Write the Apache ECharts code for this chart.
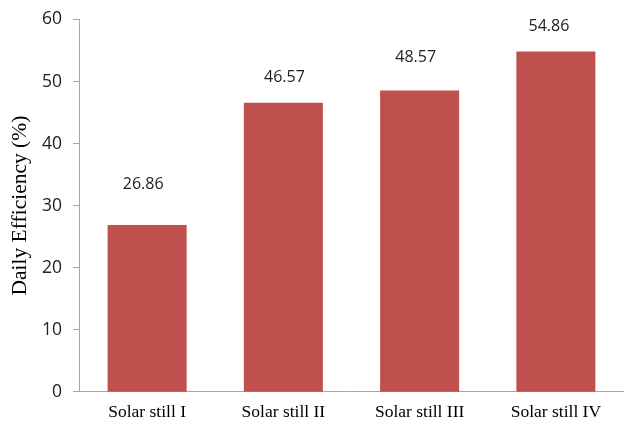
<!DOCTYPE html>
<html>
<head>
<meta charset="utf-8">
<script src="https://cdn.jsdelivr.net/npm/echarts@6/dist/echarts.min.js"></script>
<style>
  html, body { margin: 0; padding: 0; background: #fff; }
  #chart { width: 624px; height: 425px; }
</style>
</head>
<body>
<div id="chart"></div>
<script>
// Daily efficiency of the four solar stills
var categories = ['Solar still I', 'Solar still II', 'Solar still III', 'Solar still IV'];
var efficiency = [26.86, 46.57, 48.57, 54.86];
var yTicks = [0, 10, 20, 30, 40, 50, 60];

// vertical / horizontal nudges of each value label above its bar
var labelLift = [-28, -12, -20, -12];
var labelShift = [-4, 1, -4, -7];

var chart = echarts.init(document.getElementById('chart'));
chart.setOption({
  animation: false,
  grid: { left: 79, right: -3, top: 19.5, bottom: 33.3 },
  xAxis: {
    type: 'category',
    data: categories,
    axisLine: { lineStyle: { color: '#a6a6a6', width: 1 } },
    axisTick: { show: false },
    axisLabel: {
      fontFamily: 'Liberation Serif',
      fontSize: 17.5,
      color: '#000',
      margin: 12
    }
  },
  yAxis: {
    type: 'value',
    min: yTicks[0],
    max: yTicks[yTicks.length - 1],
    interval: 10,
    name: 'Daily Efficiency (%)',
    nameLocation: 'middle',
    nameGap: 44,
    nameTextStyle: {
      fontFamily: 'Liberation Serif',
      fontSize: 21.5,
      color: '#000'
    },
    axisLine: { show: true, lineStyle: { color: '#a6a6a6', width: 1 } },
    axisTick: { show: true, length: 6, lineStyle: { color: '#a6a6a6' } },
    splitLine: { show: false },
    axisLabel: {
      fontFamily: 'Open Sans',
      fontSize: 17.5,
      color: '#222',
      margin: 17
    }
  },
  series: [{
    type: 'bar',
    barCategoryGap: '42%',
    data: efficiency.map(function (v, i) {
      return {
        value: v,
        label: { offset: [labelShift[i], labelLift[i]] }
      };
    }),
    itemStyle: { color: '#c0504d' },
    label: {
      show: true,
      position: 'top',
      fontFamily: 'Open Sans',
      fontSize: 16,
      color: '#222',
      formatter: function (p) { return p.value.toFixed(2); }
    }
  }]
});
</script>
</body>
</html>
